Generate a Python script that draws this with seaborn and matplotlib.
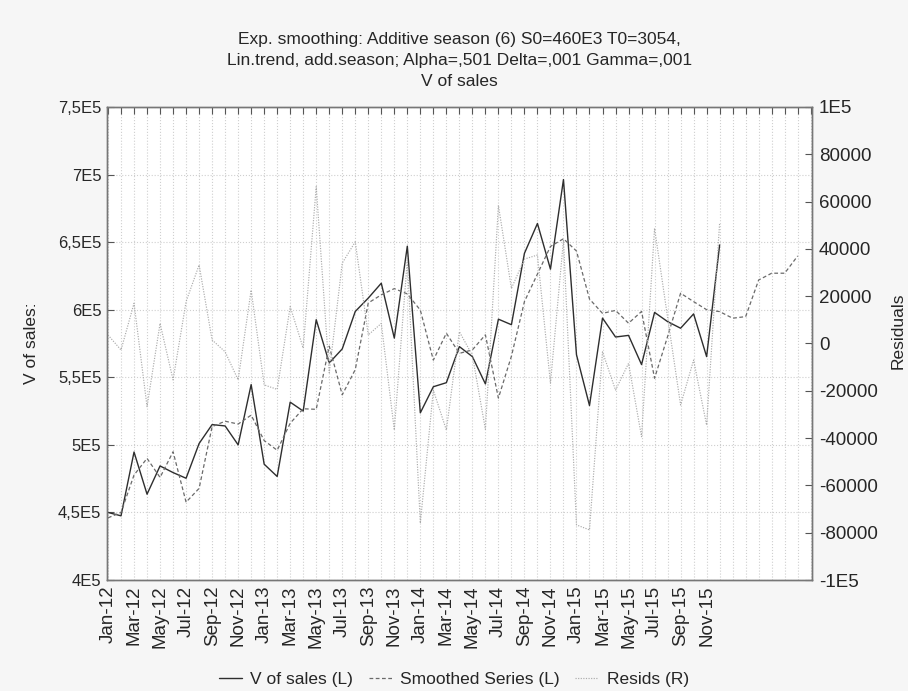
import matplotlib
matplotlib.use("Agg")
import matplotlib.pyplot as plt
import numpy as np
import pandas as pd
import seaborn as sns

sns.set_style("white")
plt.rcParams['font.family'] = ['Liberation Sans', 'DejaVu Sans']

# values (L axis in units of 1E5, R axis plain)
sales = [4.50, 4.475, 4.947, 4.635, 4.844, 4.795, 4.753, 5.01, 5.15, 5.14, 5.00, 5.446,
         4.857, 4.766, 5.316, 5.25, 5.926, 5.606, 5.71, 5.987, 6.086, 6.196, 5.79, 6.47,
         5.237, 5.43, 5.46, 5.727, 5.653, 5.451, 5.93, 5.889, 6.417, 6.638, 6.30, 6.963,
         5.667, 5.291, 5.938, 5.798, 5.81, 5.594, 5.98, 5.912, 5.863, 5.969, 5.653, 6.479]
smoothed = [4.46, 4.50, 4.777, 4.90, 4.759, 4.949, 4.576, 4.678, 5.135, 5.175, 5.154, 5.22,
            5.032, 4.96, 5.16, 5.267, 5.263, 5.73, 5.37, 5.557, 6.05, 6.11, 6.156, 6.117,
            5.997, 5.627, 5.826, 5.677, 5.703, 5.814, 5.346, 5.656, 6.06, 6.264, 6.468, 6.525,
            6.434, 6.079, 5.973, 5.995, 5.90, 5.987, 5.493, 5.801, 6.122, 6.06, 6.00, 5.986,
            5.937, 5.949, 6.22, 6.27, 6.27, 6.398]
resids = [3600, -2750, 17000, -26700, 8500, -15400, 17700, 33200, 1500, -3500, -15400, 22600,
          -17500, -19400, 15600, -2000, 66300, -12400, 34000, 43000, 3600, 8500, -36600, 35300,
          -76000, -19700, -36600, 5000, -5000, -36300, 58400, 23300, 35700, 37400, -16800, 43800,
          -76700, -78800, -3500, -19700, -8400, -39400, 48700, 11100, -26000, -7000, -34500, 51000]

month_labels = ["Jan-12", "Mar-12", "May-12", "Jul-12", "Sep-12", "Nov-12",
                "Jan-13", "Mar-13", "May-13", "Jul-13", "Sep-13", "Nov-13",
                "Jan-14", "Mar-14", "May-14", "Jul-14", "Sep-14", "Nov-14",
                "Jan-15", "Mar-15", "May-15", "Jul-15", "Sep-15", "Nov-15"]
left_ticks = [4.0, 4.5, 5.0, 5.5, 6.0, 6.5, 7.0, 7.5]
left_labels = ["4E5", "4,5E5", "5E5", "5,5E5", "6E5", "6,5E5", "7E5", "7,5E5"]
right_ticks = [-100000, -80000, -60000, -40000, -20000, 0, 20000, 40000, 60000, 80000, 100000]
right_labels = ["-1E5", "-80000", "-60000", "-40000", "-20000", "0",
                "20000", "40000", "60000", "80000", "1E5"]

df_obs = pd.DataFrame({"t": np.arange(len(sales)), "sales": np.array(sales) * 1e5,
                       "resid": resids})
df_sm = pd.DataFrame({"t": np.arange(len(smoothed)), "smoothed": np.array(smoothed) * 1e5})

fig = plt.figure(figsize=(9.08, 6.91), dpi=100, facecolor="#f6f6f6")
ax = fig.add_axes([0.1178, 0.1606, 0.7765, 0.6846])
ax.set_facecolor("white")
ax2 = ax.twinx()

sns.lineplot(data=df_obs, x="t", y="sales", ax=ax, color="#2e2e2e", lw=1.0,
             label="V of sales (L)", legend=False)
sns.lineplot(data=df_sm, x="t", y="smoothed", ax=ax, color="#6a6a6a", lw=0.9,
             linestyle=(0, (3, 2)), label="Smoothed Series (L)", legend=False)
sns.lineplot(data=df_obs, x="t", y="resid", ax=ax2, color="#ababab", lw=0.85,
             linestyle=(0, (1, 1.2)), label="Resids (R)", legend=False)

ax.set_xlim(-0.08, 54.1)
ax.set_ylim(4.0e5, 7.5e5)
ax2.set_ylim(-1e5, 1e5)

ax.set_yticks([v * 1e5 for v in left_ticks])
ax.set_yticklabels(left_labels, fontsize=12)
ax2.set_yticks(right_ticks)
ax2.set_yticklabels(right_labels, fontsize=13.5)

xt = np.arange(0, 55)
ax.set_xticks(xt)
labels = [""] * len(xt)
for k, lab in enumerate(month_labels):
    labels[2 * k] = lab
ax.set_xticklabels(labels, rotation=90, fontsize=13.5)

ax.grid(True, color="#cfcfcf", linestyle=":", lw=0.8)
ax.set_axisbelow(True)
ax.tick_params(axis="x", direction="in", top=True, length=5, color="#555555", pad=4)
ax.tick_params(axis="y", direction="in", length=5, color="#555555", pad=4)
ax2.tick_params(axis="y", direction="in", length=5, color="#555555", pad=5)
for a in (ax, ax2):
    for s in a.spines.values():
        s.set_color("#777777")
        s.set_linewidth(1.0)

ax.set_xlabel("")
ax.set_ylabel("V of sales:", fontsize=12.5, labelpad=14)
ax2.set_ylabel("")
fig.text(891 / 908, 0.522, "Residuals", rotation=90, ha="left", va="center", fontsize=12.5)

ax.set_title("Exp. smoothing: Additive season (6) S0=460E3 T0=3054,\n"
             "Lin.trend, add.season; Alpha=,501 Delta=,001 Gamma=,001\nV of sales",
             fontsize=12.5, pad=15, linespacing=1.5)

h1, lb1 = ax.get_legend_handles_labels()
h2, lb2 = ax2.get_legend_handles_labels()
fig.legend(h1 + h2, lb1 + lb2, loc="center", bbox_to_anchor=(0.5, 0.017), ncol=3,
           frameon=False, fontsize=12.5, handlelength=1.3, columnspacing=0.9, handletextpad=0.5)

fig.savefig("out.png", dpi=100, facecolor=fig.get_facecolor())
